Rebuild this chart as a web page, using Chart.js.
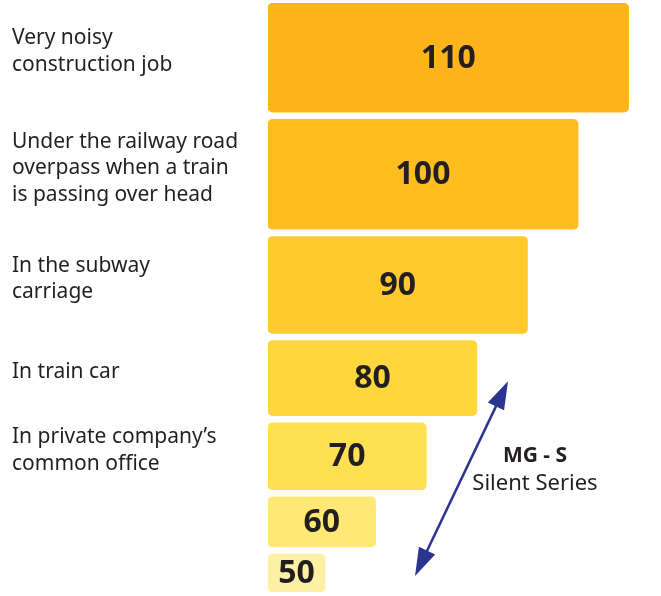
<!DOCTYPE html>
<html lang="en">
<head>
    <meta charset="UTF-8">
    <title>Noise levels</title>
    <script src="https://cdn.jsdelivr.net/npm/chart.js"></script>
    <style>
        body {
            margin: 0;
            background: #ffffff;
        }
        #wrap {
            width: 661px;
            height: 596px;
            position: relative;
        }
    </style>
</head>
<body>
    <div id="wrap"><canvas id="noiseChart"></canvas></div>

    <script>
        // data
        const categories = [
            ['Very noisy', 'construction job'],
            ['Under the railway road', 'overpass when a train', 'is passing over head'],
            ['In the subway', 'carriage'],
            ['In train car'],
            ['In private company\u2019s', 'common office'],
            '',
            ''
        ];
        const noiseLevels = [110, 100, 90, 80, 70, 60, 50];
        const xMin = 38.7;
        const xMax = 116.4;

        // styles
        const barColors = ['#ffb41b', '#ffbd20', '#ffca2c', '#ffd63c', '#ffe050', '#ffe873', '#fff1a3'];
        const barHeights = [109, 110, 97, 75, 67, 50, 38];
        const barGap = 7;
        const textColor = '#231f20';
        const arrowColor = '#2b3590';

        // rows laid out along a linear y axis, one unit per pixel of bar height
        const rowCentres = [];
        let acc = 0;
        barHeights.forEach(h => {
            rowCentres.push(acc + h / 2);
            acc += h + barGap;
        });
        const rowsTotal = acc - barGap;

        const datasets = noiseLevels.map((v, i) => ({
            label: String(v),
            data: [{ x: v, y: rowCentres[i] }],
            backgroundColor: barColors[i],
            barThickness: barHeights[i],
            borderRadius: 5,
            borderSkipped: false,
            base: xMin,
            stack: 'rows'
        }));

        // numbers inside bars
        const valueLabels = {
            id: 'valueLabels',
            afterDatasetsDraw(chart) {
                const ctx = chart.ctx;
                ctx.save();
                ctx.font = 'bold 32px "Noto Sans"';
                ctx.fillStyle = textColor;
                ctx.textAlign = 'center';
                ctx.textBaseline = 'middle';
                chart.data.datasets.forEach((ds, i) => {
                    const bar = chart.getDatasetMeta(i).data[0];
                    ctx.fillText(String(ds.data[0].x), (bar.x + bar.base) / 2, bar.y + 1);
                });
                ctx.restore();
            }
        };

        // double arrow with the MG - S note
        const seriesArrow = {
            id: 'seriesArrow',
            afterDraw(chart) {
                const ctx = chart.ctx;
                const left = chart.chartArea.left;
                const top = chart.getDatasetMeta(3).data[0];
                const bottom = chart.getDatasetMeta(6).data[0];
                const x1 = left + 240, y1 = top.y + 3;
                const x2 = left + 147, y2 = bottom.y + 3;
                const ang = Math.atan2(y2 - y1, x2 - x1);
                const headLen = 28, headW = 9;

                ctx.save();
                ctx.strokeStyle = arrowColor;
                ctx.fillStyle = arrowColor;
                ctx.lineWidth = 2.5;
                ctx.beginPath();
                ctx.moveTo(x1 + Math.cos(ang) * 10, y1 + Math.sin(ang) * 10);
                ctx.lineTo(x2 - Math.cos(ang) * 10, y2 - Math.sin(ang) * 10);
                ctx.stroke();

                function head(tx, ty, a) {
                    const bx = tx + Math.cos(a) * headLen;
                    const by = ty + Math.sin(a) * headLen;
                    ctx.beginPath();
                    ctx.moveTo(tx, ty);
                    ctx.lineTo(bx - Math.sin(a) * headW, by + Math.cos(a) * headW);
                    ctx.lineTo(bx + Math.sin(a) * headW, by - Math.cos(a) * headW);
                    ctx.closePath();
                    ctx.fill();
                }
                head(x1, y1, ang);
                head(x2, y2, ang + Math.PI);

                ctx.fillStyle = textColor;
                ctx.textAlign = 'center';
                ctx.textBaseline = 'alphabetic';
                ctx.font = 'bold 21px "Noto Sans"';
                ctx.fillText('MG - S', left + 267, 462);
                ctx.font = '22px "Noto Sans"';
                ctx.fillText('Silent Series', left + 267, 490);
                ctx.restore();
            }
        };

        new Chart(document.getElementById('noiseChart'), {
            type: 'bar',
            data: { datasets: datasets },
            options: {
                indexAxis: 'y',
                responsive: true,
                maintainAspectRatio: false,
                animation: false,
                layout: { padding: { left: 12, top: 3, bottom: 4, right: 0 } },
                plugins: {
                    legend: { display: false },
                    tooltip: { enabled: false }
                },
                scales: {
                    x: {
                        type: 'linear',
                        min: xMin,
                        max: xMax,
                        stacked: false,
                        display: false
                    },
                    y: {
                        type: 'linear',
                        min: 0,
                        max: rowsTotal,
                        reverse: true,
                        offset: false,
                        grid: { display: false, offset: false },
                        border: { display: false },
                        afterBuildTicks: (scale) => {
                            scale.ticks = rowCentres.map(v => ({ value: v }));
                        },
                        afterFit: (scale) => {
                            scale.width = 256;
                            scale.paddingTop = 0;
                            scale.paddingBottom = 0;
                        },
                        ticks: {
                            autoSkip: false,
                            crossAlign: 'far',
                            labelOffset: -6,
                            color: textColor,
                            font: { family: 'Noto Sans', size: 21, lineHeight: 1.27 },
                            callback: (value, index) => categories[index]
                        }
                    }
                }
            },
            plugins: [valueLabels, seriesArrow]
        });
    </script>
</body>
</html>
